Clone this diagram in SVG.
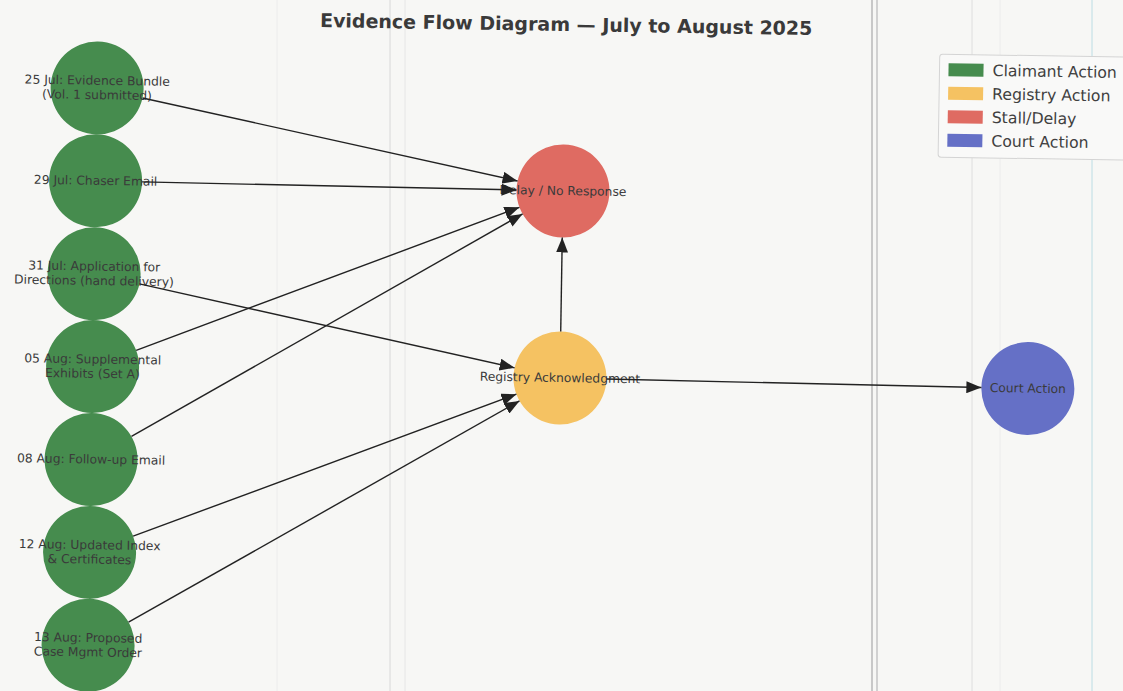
<svg xmlns="http://www.w3.org/2000/svg" width="1123" height="691" viewBox="0 0 1123 691">
<defs>
<style>
.bg{fill:#f7f7f5}
.scan{stroke:#d8d8d8;stroke-width:1;fill:none}
.claim{fill:#468c4e}
.reg{fill:#f5c262}
.stall{fill:#df6b62}
.court{fill:#6570c6}
.lbl{font-family:"DejaVu Sans",sans-serif;font-size:12.3px;fill:#3a3a3a;text-anchor:middle;dominant-baseline:central}
.edge{stroke:#222;stroke-width:1.4;fill:none;marker-end:url(#arr)}
.title{font-family:"DejaVu Sans",sans-serif;font-size:19px;font-weight:bold;fill:#3a3a3a;text-anchor:middle}
.leg{font-family:"DejaVu Sans",sans-serif;font-size:15.7px;fill:#404040;dominant-baseline:central}
</style>
<marker id="arr" markerWidth="16" markerHeight="12" refX="15" refY="6" orient="auto" markerUnits="userSpaceOnUse">
<path d="M0,0 L15,6 L0,12 z" fill="#222"/>
</marker>
</defs>
<rect class="bg" x="0" y="0" width="1123" height="691"/>
<g id="scan-lines">
<line class="scan" x1="277" y1="0" x2="277" y2="691" style="stroke:#ececec"/>
<line class="scan" x1="390" y1="0" x2="390" y2="691"/>
<line class="scan" x1="405" y1="0" x2="405" y2="691" style="stroke:#e6e6e6"/>
<line class="scan" x1="872" y1="0" x2="872" y2="691" style="stroke:#b8b8b8;stroke-width:1.5"/>
<line class="scan" x1="877" y1="0" x2="877" y2="691" style="stroke:#c4c4c4;stroke-width:1.5"/>
<line class="scan" x1="972" y1="0" x2="972" y2="691" style="stroke:#dedede"/>
<line class="scan" x1="1000" y1="0" x2="1000" y2="691" style="stroke:#ececec"/>
<line class="scan" x1="1092" y1="0" x2="1092" y2="691" style="stroke:#bcdde4"/>
</g>
<g transform="rotate(0.93 561 345)">
<text class="title" x="561" y="31">Evidence Flow Diagram — July to August 2025</text>
<g id="n1"><circle class="claim" cx="93" cy="95.5" r="46.5"/><text class="lbl" x="93" y="88.3">25 Jul: Evidence Bundle</text><text class="lbl" x="93" y="102.7">(Vol. 1 submitted)</text></g>
<g id="n2"><circle class="claim" cx="93" cy="188.4" r="46.5"/><text class="lbl" x="93" y="188.4">29 Jul: Chaser Email</text></g>
<g id="n3"><circle class="claim" cx="93" cy="281.3" r="46.5"/><text class="lbl" x="93" y="274.1">31 Jul: Application for</text><text class="lbl" x="93" y="288.5">Directions (hand delivery)</text></g>
<g id="n4"><circle class="claim" cx="93" cy="374.2" r="46.5"/><text class="lbl" x="93" y="367">05 Aug: Supplemental</text><text class="lbl" x="93" y="381.4">Exhibits (Set A)</text></g>
<g id="n5"><circle class="claim" cx="93" cy="467.1" r="46.5"/><text class="lbl" x="93" y="467.1">08 Aug: Follow-up Email</text></g>
<g id="n6"><circle class="claim" cx="93" cy="560" r="46.5"/><text class="lbl" x="93" y="552.8">12 Aug: Updated Index</text><text class="lbl" x="93" y="567.2">&amp; Certificates</text></g>
<g id="n7"><circle class="claim" cx="93" cy="652.8" r="46.5"/><text class="lbl" x="93" y="645.6">13 Aug: Proposed</text><text class="lbl" x="93" y="660">Case Mgmt Order</text></g>
<g id="stall"><circle class="stall" cx="560.5" cy="191" r="46.5"/><text class="lbl" x="560.5" y="191">Delay / No Response</text></g>
<g id="registry"><circle class="reg" cx="560.5" cy="378" r="46.5"/><text class="lbl" x="560.5" y="378">Registry Acknowledgment</text></g>
<g id="court"><circle class="court" cx="1028.5" cy="381" r="46.5"/><text class="lbl" x="1028.5" y="381">Court Action</text></g>
<g id="connectors">
<line class="edge" x1="138.6" y1="104.8" x2="514.9" y2="181.7"/>
<line class="edge" x1="139.5" y1="188.7" x2="514" y2="190.7"/>
<line class="edge" x1="138.5" y1="290.7" x2="515" y2="368.6"/>
<line class="edge" x1="136.3" y1="357.2" x2="517.2" y2="208"/>
<line class="edge" x1="133" y1="443.4" x2="520.5" y2="214.6"/>
<line class="edge" x1="136.3" y1="543.1" x2="517.2" y2="394.9"/>
<line class="edge" x1="133.1" y1="629.2" x2="520.4" y2="401.6"/>
<line class="edge" x1="560.5" y1="331.5" x2="560.5" y2="237.5"/>
<line class="edge" x1="607" y1="378.3" x2="982" y2="380.7"/>
</g>
<g id="legend">
<rect x="935" y="48" width="187" height="103" rx="3" fill="#f9f9f8" stroke="#d4d4d4" stroke-width="1"/>
<rect class="claim" x="944" y="57" width="35" height="13"/><text class="leg" x="988" y="63.5">Claimant Action</text>
<rect class="reg" x="944" y="80.5" width="35" height="13"/><text class="leg" x="988" y="87">Registry Action</text>
<rect class="stall" x="944" y="104" width="35" height="13"/><text class="leg" x="988" y="110.5">Stall/Delay</text>
<rect class="court" x="944" y="127.5" width="35" height="13"/><text class="leg" x="988" y="134">Court Action</text>
</g>
</g>
</svg>
